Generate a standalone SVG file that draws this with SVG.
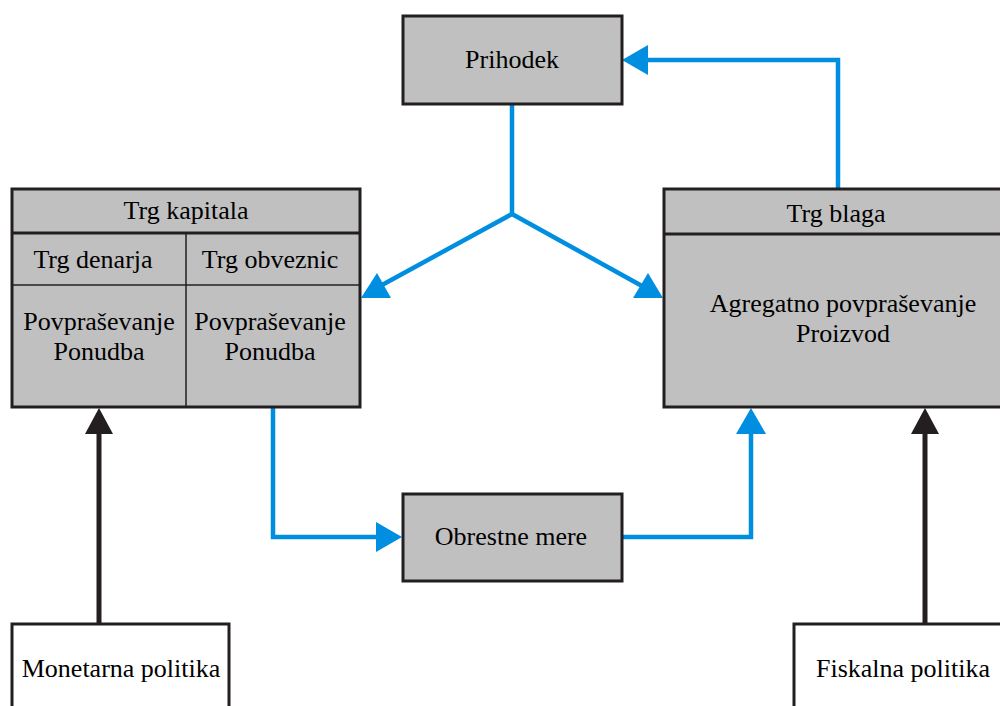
<svg xmlns="http://www.w3.org/2000/svg" width="1000" height="706" viewBox="0 0 1000 706">
<style>
.box{fill:#c0c0c0;stroke:#231f20;stroke-width:3}
.wbox{fill:#ffffff;stroke:#231f20;stroke-width:3}
.div{stroke:#231f20;stroke-width:3;fill:none}
.thin{stroke:#231f20;stroke-width:1.5;fill:none}
.t{font-family:"Liberation Serif","Times New Roman",serif;font-size:26px;fill:#000;text-anchor:middle}
.blue{stroke:#008fe0;stroke-width:4.5;fill:none;stroke-linejoin:miter}
.bhead{fill:#008fe0}
.black{stroke:#231f20;stroke-width:5;fill:none}
.khead{fill:#231f20}
</style>
<rect width="1000" height="706" fill="#ffffff"/>
<g id="connectors">
  <polyline class="blue" points="512,104 512,214"/>
  <polyline class="blue" points="512,214 382,285"/>
  <polyline class="blue" points="512,214 642,286"/>
  <polygon class="bhead" points="361,298 377,273 391,298"/>
  <polygon class="bhead" points="633,298 648,273 663,298"/>
  <polyline class="blue" points="838,189 838,60 645,60"/>
  <polygon class="bhead" points="622,60 648,45 648,75"/>
  <polyline class="blue" points="273,408 273,537 380,537"/>
  <polygon class="bhead" points="402,537 376,522 376,552"/>
  <polyline class="blue" points="622,537 751,537 751,430"/>
  <polygon class="bhead" points="751,408 736,434 766,434"/>
  <line class="black" x1="99" y1="624" x2="99" y2="430"/>
  <polygon class="khead" points="99,408 85,434 113,434"/>
  <line class="black" x1="925" y1="624" x2="925" y2="430"/>
  <polygon class="khead" points="925,408 911,434 939,434"/>
</g>
<g id="prihodek">
  <rect class="box" x="403" y="16" width="219" height="88"/>
  <text class="t" x="512" y="68">Prihodek</text>
</g>
<g id="trg-kapitala">
  <rect class="box" x="12" y="189" width="348" height="218"/>
  <line class="div" x1="12" y1="233" x2="360" y2="233"/>
  <line class="thin" x1="12" y1="285" x2="360" y2="285"/>
  <line class="thin" x1="186" y1="233" x2="186" y2="407"/>
  <text class="t" x="186" y="219">Trg kapitala</text>
  <text class="t" x="93" y="268">Trg denarja</text>
  <text class="t" x="270" y="268">Trg obveznic</text>
  <text class="t" x="99" y="330">Povpraševanje</text>
  <text class="t" x="99" y="360">Ponudba</text>
  <text class="t" x="270" y="330">Povpraševanje</text>
  <text class="t" x="270" y="360">Ponudba</text>
</g>
<g id="trg-blaga">
  <rect class="box" x="664" y="189" width="345" height="218"/>
  <line class="div" x1="664" y1="234" x2="1009" y2="234"/>
  <text class="t" x="836" y="222">Trg blaga</text>
  <text class="t" x="843" y="312">Agregatno povpraševanje</text>
  <text class="t" x="843" y="342">Proizvod</text>
</g>
<g id="obrestne-mere">
  <rect class="box" x="403" y="494" width="219" height="87"/>
  <text class="t" x="511" y="545">Obrestne mere</text>
</g>
<g id="monetarna-politika">
  <rect class="wbox" x="12" y="624" width="217" height="100"/>
  <text class="t" x="121" y="677">Monetarna politika</text>
</g>
<g id="fiskalna-politika">
  <rect class="wbox" x="794" y="624" width="220" height="100"/>
  <text class="t" x="903" y="677">Fiskalna politika</text>
</g>
</svg>
